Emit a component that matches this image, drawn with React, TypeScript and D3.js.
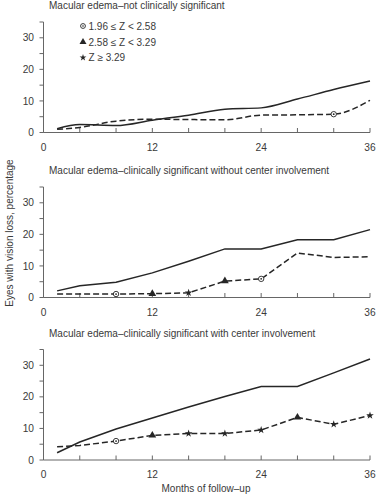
import React from "react";
import * as d3 from "d3";

const months = [1.5, 4, 8, 12, 16, 20, 24, 28, 32, 36];

const titles = [
  "Macular edema–not clinically significant",
  "Macular edema–clinically significant without center involvement",
  "Macular edema–clinically significant with center involvement",
];

const solid1 = [1.2, 2.5, 2.2, 3.9, 5.5, 7.4, 7.8, 10.6, 13.6, 16.3];
const dashed1 = [1.0, 1.6, 3.6, 4.2, 4.1, 4.0, 5.5, 5.6, 5.8, 10.2];
const marks1 = ["", "", "", "", "", "", "", "", "c", ""];

const solid2 = [2.1, 3.7, 4.8, 7.8, 11.5, 15.4, 15.4, 18.3, 18.3, 21.5];
const dashed2 = [1.1, 1.1, 1.1, 1.2, 1.5, 5.2, 5.9, 14.1, 12.7, 12.9];
const marks2 = ["", "", "c", "t", "s", "t", "c", "", "", ""];

const solid3 = [2.3, 5.7, 9.8, 13.3, 16.8, 20.1, 23.3, 23.3, 27.6, 32.0];
const dashed3 = [4.2, 4.6, 6.0, 7.8, 8.4, 8.4, 9.5, 13.5, 11.3, 14.1];
const marks3 = ["", "", "c", "t", "s", "s", "s", "t", "s", "s"];

const solids = [solid1, solid2, solid3];
const dasheds = [dashed1, dashed2, dashed3];
const marks = [marks1, marks2, marks3];

const xTickLabels = [0, 12, 24, 36];
const yTickLabels = [0, 10, 20, 30];
const legendLabels = ["1.96 ≤ Z < 2.58", "2.58 ≤ Z < 3.29", "Z ≥ 3.29"];
const legendMarks = ["c", "t", "s"];

const panelBottoms = [132.5, 297.5, 460];
const FONT = "Liberation Sans, Arial, sans-serif";
const INK = "#262626";
const TEXT = "#3a3a3a";
const AXIS = "#666";

const x = d3.scaleLinear().domain([0, 36]).range([43.5, 370]);

function Marker({ type, cx, cy, size = 1 }: { type: string; cx: number; cy: number; size?: number }) {
  if (type === "c") {
    return (
      <g>
        <circle cx={cx} cy={cy} r={2.7 * size} fill="#fff" stroke={INK} strokeWidth={0.9} />
        <circle cx={cx} cy={cy} r={0.9 * size} fill={INK} />
      </g>
    );
  }
  if (type === "t") {
    const sym = d3.symbol().type(d3.symbolTriangle).size(26 * size * size)();
    return <path d={sym || ""} transform={`translate(${cx},${cy})`} fill={INK} />;
  }
  const sym = d3.symbol().type(d3.symbolStar).size(18 * size * size)();
  return <path d={sym || ""} transform={`translate(${cx},${cy})`} fill={INK} />;
}

function Panel({ idx }: { idx: number }) {
  const y0 = panelBottoms[idx];
  const y = d3.scaleLinear().domain([0, 35]).range([y0, y0 - 110.5]);
  const line = d3
    .line<number>()
    .x((_, i) => x(months[i]))
    .y((d) => y(d))
    .curve(idx === 0 ? d3.curveMonotoneX : d3.curveLinear);
  const xTicks = d3.range(0, 37, 4);
  const yTicks = d3.range(0, 36, 5);
  return (
    <g>
      <text x={49} y={y0 - 123.5} fontSize={10} fill={TEXT} fontFamily={FONT}>
        {titles[idx]}
      </text>
      <line x1={x(0)} x2={x(0)} y1={y(0)} y2={y(35)} stroke={AXIS} strokeWidth={1} />
      <line x1={x(0)} x2={x(36)} y1={y(0)} y2={y(0)} stroke={AXIS} strokeWidth={1} />
      {yTicks.map((t) => (
        <line key={"y" + t} x1={x(0) - 4} x2={x(0)} y1={y(t)} y2={y(t)} stroke={AXIS} strokeWidth={1} />
      ))}
      {xTicks.map((t) => (
        <line key={"x" + t} x1={x(t)} x2={x(t)} y1={y(0)} y2={y(0) - 4.5} stroke={AXIS} strokeWidth={1} />
      ))}
      {yTickLabels.map((t) => (
        <text key={"yl" + t} x={34} y={y(t) + 3.6} fontSize={10.2} textAnchor="end" fill={TEXT} fontFamily={FONT}>
          {t}
        </text>
      ))}
      {xTickLabels.map((t) => (
        <text key={"xl" + t} x={x(t)} y={y(0) + 18} fontSize={10.2} textAnchor="middle" fill={TEXT} fontFamily={FONT}>
          {t}
        </text>
      ))}
      <path d={line(solids[idx]) || ""} fill="none" stroke={INK} strokeWidth={1.5} />
      <path d={line(dasheds[idx]) || ""} fill="none" stroke={INK} strokeWidth={1.5} strokeDasharray="6,3" />
      {marks[idx].map((m, i) =>
        m ? <Marker key={"m" + i} type={m} cx={x(months[i])} cy={y(dasheds[idx][i])} /> : null
      )}
    </g>
  );
}

export default function App() {
  const legendY = [26, 42, 57.5];
  return (
    <svg
      width={383}
      height={500}
      style={{ position: "absolute", left: 0, top: 0, background: "#fff" }}
    >
      <rect width={383} height={500} fill="#fff" />
      {[0, 1, 2].map((i) => (
        <Panel key={i} idx={i} />
      ))}
      {legendLabels.map((l, i) => (
        <g key={"lg" + i}>
          <Marker type={legendMarks[i]} cx={83} cy={legendY[i]} size={0.9} />
          <text x={88.5} y={legendY[i] + 3.6} fontSize={10} fill={TEXT} fontFamily={FONT}>
            {l}
          </text>
        </g>
      ))}
      <text
        transform="translate(13,233) rotate(-90)"
        textAnchor="middle"
        fontSize={10}
        fill={TEXT}
        fontFamily={FONT}
      >
        Eyes with vision loss, percentage
      </text>
      <text x={206} y={491.5} textAnchor="middle" fontSize={10} fill={TEXT} fontFamily={FONT}>
        Months of follow–up
      </text>
    </svg>
  );
}
